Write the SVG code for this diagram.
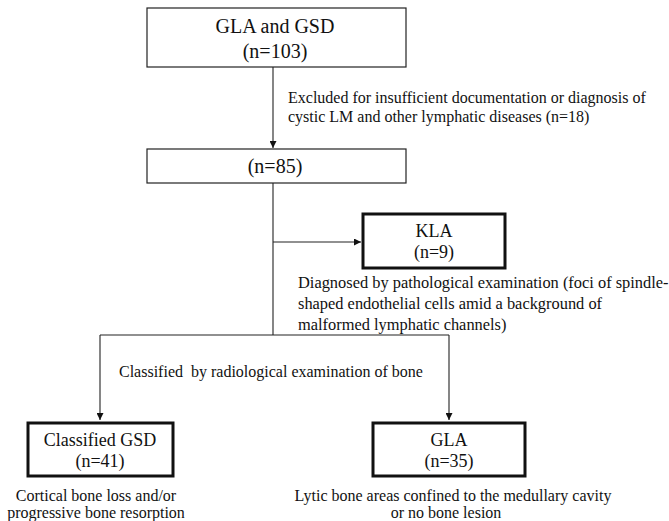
<svg xmlns="http://www.w3.org/2000/svg" width="669" height="521" viewBox="0 0 669 521">
<style>
text{font-family:"Liberation Serif","Times New Roman",serif;fill:#111}
.thin{fill:#fff;stroke:#222;stroke-width:1.2}
.thick{fill:#fff;stroke:#111;stroke-width:3}
.ln{stroke:#222;stroke-width:1.1;fill:none}
.big{font-size:20px;text-anchor:middle}
.mid{font-size:18px;text-anchor:middle}
.note{font-size:16px}
.dx{font-size:16.4px}
.cap{font-size:16px;text-anchor:middle}
</style>
<defs>
<marker id="ah" viewBox="0 0 10 10" refX="10" refY="5" markerWidth="7" markerHeight="7" markerUnits="userSpaceOnUse" orient="auto">
<path d="M0,0 L10,5 L0,10 z" fill="#111"/>
</marker>
</defs>
<rect width="669" height="521" fill="#fff"/>
<g id="connectors">
<line class="ln" x1="273" y1="67" x2="273" y2="148" marker-end="url(#ah)"/>
<line class="ln" x1="273" y1="183" x2="273" y2="335"/>
<line class="ln" x1="273" y1="242" x2="361" y2="242" marker-end="url(#ah)"/>
<line class="ln" x1="100" y1="335" x2="449" y2="335"/>
<line class="ln" x1="100" y1="335" x2="100" y2="420" marker-end="url(#ah)"/>
<line class="ln" x1="449" y1="335" x2="449" y2="420" marker-end="url(#ah)"/>
<text class="note" x="288" y="103">Excluded for insufficient documentation or diagnosis of</text>
<text class="note" x="288" y="122">cystic LM and other lymphatic diseases (n=18)</text>
<text class="note" x="119" y="377" xml:space="preserve">Classified  by radiological examination of bone</text>
</g>
<g id="start">
<rect class="thin" x="147" y="8" width="259" height="59"/>
<text class="big" x="275" y="33">GLA and GSD</text>
<text class="big" x="275" y="58">(n=103)</text>
</g>
<g id="n85">
<rect class="thin" x="147" y="149" width="259" height="34"/>
<text class="big" x="275" y="173">(n=85)</text>
</g>
<g id="kla">
<rect class="thick" x="363" y="214" width="142" height="54"/>
<text class="mid" x="434" y="237">KLA</text>
<text class="mid" x="434" y="258">(n=9)</text>
<text class="dx" x="298" y="288">Diagnosed by pathological examination (foci of spindle-</text>
<text class="dx" x="298" y="309">shaped endothelial cells amid a background of</text>
<text class="dx" x="298" y="330">malformed lymphatic channels)</text>
</g>
<g id="gsd">
<rect class="thick" x="28" y="423" width="145" height="53"/>
<text class="mid" x="100" y="446">Classified GSD</text>
<text class="mid" x="100" y="467">(n=41)</text>
<text class="cap" x="96" y="501">Cortical bone loss and/or</text>
<text class="cap" x="96" y="518">progressive bone resorption</text>
</g>
<g id="gla">
<rect class="thick" x="373" y="423" width="152" height="53"/>
<text class="mid" x="449" y="446">GLA</text>
<text class="mid" x="449" y="467">(n=35)</text>
<text class="cap" x="453" y="501">Lytic bone areas confined to the medullary cavity</text>
<text class="cap" x="446" y="518">or no bone lesion</text>
</g>
</svg>
